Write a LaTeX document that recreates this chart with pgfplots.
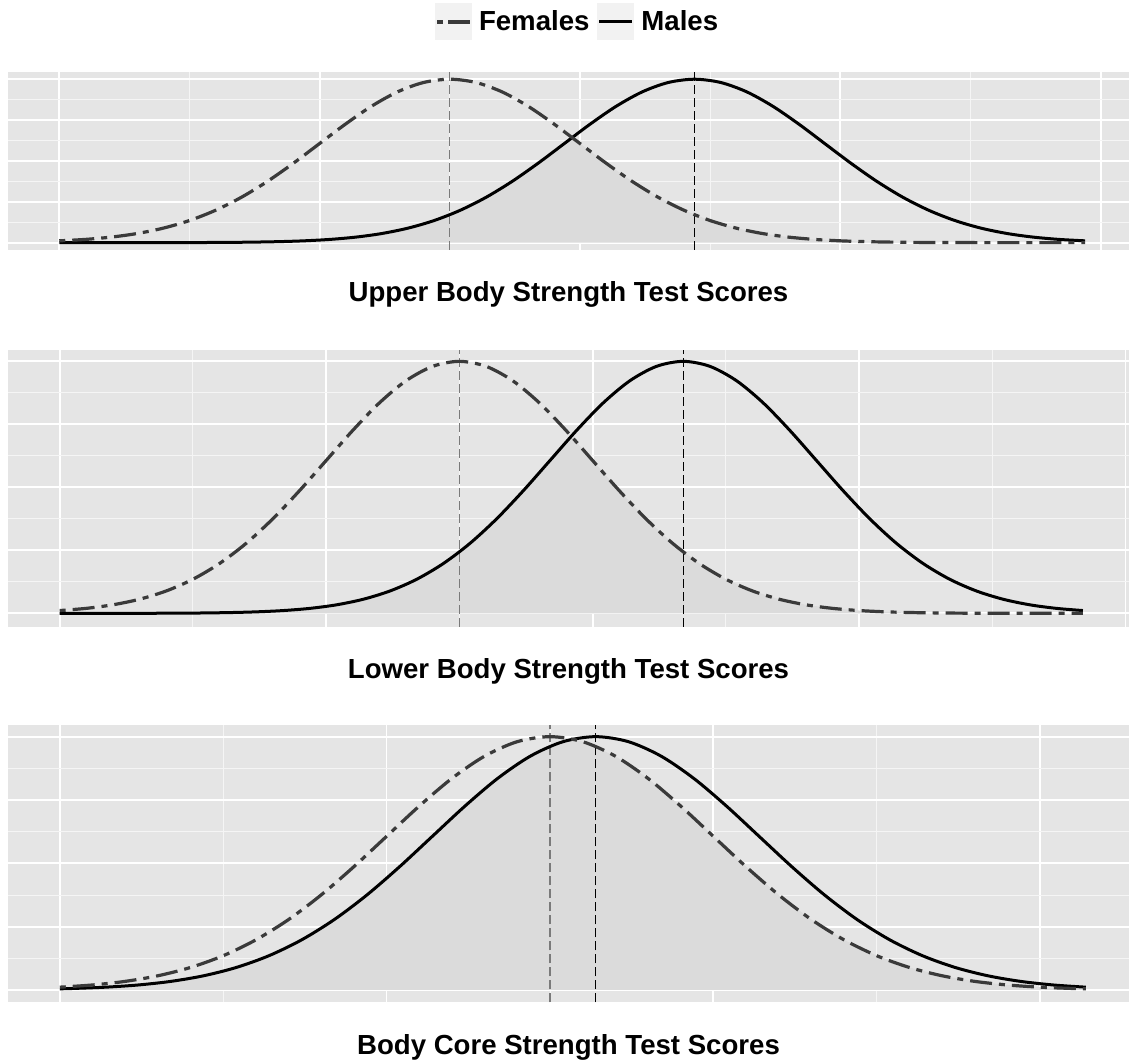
\documentclass[border=0pt]{standalone}
\usepackage{fontspec}
\setmainfont{Liberation Sans}
\usepackage{pgfplots}
\pgfplotsset{compat=1.18}
\definecolor{bgcol}{HTML}{E5E5E5}
\definecolor{shadecol}{HTML}{DBDBDB}
\definecolor{femcol}{HTML}{3A3A3A}
\definecolor{femvline}{HTML}{7A7A7A}
\definecolor{keybg}{HTML}{F2F2F2}
\pgfplotsset{
  panel/.style={
    scale only axis,
    width=560.5pt,
    axis background/.style={fill=bgcol},
    axis line style={draw=none},
    major tick length=0pt, minor tick length=0pt,
    xticklabel=\empty, yticklabel=\empty,
    xmajorgrids, ymajorgrids, xminorgrids, yminorgrids,
    major grid style={white, line width=0.9pt},
    minor grid style={white!60!bgcol, line width=0.45pt},
    xtick={0,1,2,3,4}, minor xtick={0.5,1.5,2.5,3.5},
    ytick={0,0.25,0.5,0.75,1}, minor ytick={0.125,0.375,0.625,0.875},
    clip=true,
    xlabel style={at={(axis description cs:0.5,0)}, anchor=base, yshift=-26pt,
      font=\fontsize{13.8}{16}\selectfont\bfseries},
  },
  femline/.style={femcol, line width=1.6pt, dash pattern=on 3pt off 3.5pt on 11pt off 3.5pt, smooth},
  maleline/.style={black, line width=1.5pt, smooth},
  femmean/.style={femvline, line width=0.65pt, dash pattern=on 4.5pt off 2pt},
  malemean/.style={black, line width=0.6pt, dash pattern=on 4.5pt off 2pt},
  shade/.style={fill=shadecol, draw=none},
}
\begin{document}
\begin{tikzpicture}
\path[use as bounding box] (0,0) rectangle (564.5pt,-531.5pt);
% ---------- Panel 1 ----------
\begin{axis}[panel, at={(4pt,-35.85pt)}, anchor=north west, height=89.15pt,
  xmin=-0.197, xmax=4.109, ymin=-0.045, ymax=1.046,
  xlabel={Upper Body Strength Test Scores},
  legend columns=2,
  legend style={draw=none, fill=none, at={(0.509,1.279)}, anchor=center,
    font=\fontsize{13.8}{16}\selectfont\bfseries, inner sep=0pt,
    /tikz/every odd column/.append style={column sep=1.5pt},
    /tikz/every even column/.append style={column sep=2pt}},
  legend image code/.code={
    \path[fill=keybg, draw=none, solid] (0pt,-9.25pt) rectangle (18.5pt,9.25pt);
    \draw[#1] (1pt,0pt) -- (17.5pt,0pt);
  },
]
\addplot[shade, forget plot] coordinates {
(0,0) (0.34,0.0001) (0.44,0.0003) (0.54,0.0007) (0.64,0.0015) (0.74,0.0031) (0.84,0.0060) (0.94,0.0111) (1.04,0.0198) (1.14,0.0340) (1.24,0.0561) (1.34,0.0889) (1.44,0.1353) (1.54,0.1979) (1.64,0.2780) (1.74,0.3753) (1.84,0.4868) (1.94,0.6065) (1.97,0.6429)
(2.0,0.6065) (2.1,0.4868) (2.2,0.3753) (2.3,0.2780) (2.4,0.1979) (2.5,0.1353) (2.6,0.0889) (2.7,0.0561) (2.8,0.0340) (2.9,0.0198) (3.0,0.0111) (3.1,0.0060) (3.2,0.0031) (3.3,0.0015) (3.4,0.0007) (3.5,0.0003) (3.6,0.0001) (3.94,0)
} \closedcycle;
\addplot[femmean, forget plot] coordinates {(1.5,-0.045) (1.5,1.046)};
\addplot[malemean, forget plot] coordinates {(2.44,-0.045) (2.44,1.046)};
\addplot[maleline, forget plot] coordinates {
(0,0) (0.04,0) (0.34,0.0001) (0.44,0.0003) (0.54,0.0007) (0.64,0.0015) (0.74,0.0031) (0.84,0.0060) (0.94,0.0111) (1.04,0.0198) (1.14,0.0340) (1.24,0.0561) (1.34,0.0889) (1.44,0.1353) (1.54,0.1979) (1.64,0.2780) (1.74,0.3753) (1.84,0.4868) (1.94,0.6065) (2.04,0.7261) (2.14,0.8353) (2.24,0.9231) (2.34,0.9802) (2.44,1) (2.54,0.9802) (2.64,0.9231) (2.74,0.8353) (2.84,0.7261) (2.94,0.6065) (3.04,0.4868) (3.14,0.3753) (3.24,0.2780) (3.34,0.1979) (3.44,0.1353) (3.54,0.0889) (3.64,0.0561) (3.74,0.0340) (3.84,0.0198) (3.94,0.0111)
};
\addplot[femline, forget plot] coordinates {
(0.0,0.0111) (0.1,0.0198) (0.2,0.0340) (0.3,0.0561) (0.4,0.0889) (0.5,0.1353) (0.6,0.1979) (0.7,0.2780) (0.8,0.3753) (0.9,0.4868) (1.0,0.6065) (1.1,0.7261) (1.2,0.8353) (1.3,0.9231) (1.4,0.9802) (1.5,1) (1.6,0.9802) (1.7,0.9231) (1.8,0.8353) (1.9,0.7261) (2.0,0.6065) (2.1,0.4868) (2.2,0.3753) (2.3,0.2780) (2.4,0.1979) (2.5,0.1353) (2.6,0.0889) (2.7,0.0561) (2.8,0.0340) (2.9,0.0198) (3.0,0.0111) (3.1,0.0060) (3.2,0.0031) (3.3,0.0015) (3.4,0.0007) (3.5,0.0003) (3.6,0.0001) (3.7,0) (3.94,0)
};
\addlegendimage{femcol, line width=1.6pt, dash pattern=on 3pt off 2.5pt on 11pt off 3pt}
\addlegendentry{Females}
\addlegendimage{black, line width=1.5pt}
\addlegendentry{Males}
\end{axis}
% ---------- Panel 2 ----------
\begin{axis}[panel, at={(4pt,-175pt)}, anchor=north west, height=138.35pt,
  xmin=-0.194, xmax=4.013, ymin=-0.053, ymax=1.045,
  xlabel={Lower Body Strength Test Scores},
]
\addplot[shade] coordinates {
(0,0) (0.24,0.0001) (0.34,0.0003) (0.44,0.0007) (0.54,0.0015) (0.64,0.0031) (0.74,0.0060) (0.84,0.0111) (0.94,0.0198) (1.04,0.0340) (1.14,0.0561) (1.24,0.0889) (1.34,0.1353) (1.44,0.1979) (1.54,0.2780) (1.64,0.3753) (1.74,0.4868) (1.84,0.6065) (1.92,0.7027)
(2.0,0.6065) (2.1,0.4868) (2.2,0.3753) (2.3,0.2780) (2.4,0.1979) (2.5,0.1353) (2.6,0.0889) (2.7,0.0561) (2.8,0.0340) (2.9,0.0198) (3.0,0.0111) (3.1,0.0060) (3.2,0.0031) (3.3,0.0015) (3.4,0.0007) (3.5,0.0003) (3.6,0.0001) (3.84,0)
} \closedcycle;
\addplot[femmean] coordinates {(1.5,-0.053) (1.5,1.045)};
\addplot[malemean] coordinates {(2.34,-0.053) (2.34,1.045)};
\addplot[maleline] coordinates {
(0,0) (0.04,0) (0.14,0) (0.24,0.0001) (0.34,0.0003) (0.44,0.0007) (0.54,0.0015) (0.64,0.0031) (0.74,0.0060) (0.84,0.0111) (0.94,0.0198) (1.04,0.0340) (1.14,0.0561) (1.24,0.0889) (1.34,0.1353) (1.44,0.1979) (1.54,0.2780) (1.64,0.3753) (1.74,0.4868) (1.84,0.6065) (1.94,0.7261) (2.04,0.8353) (2.14,0.9231) (2.24,0.9802) (2.34,1) (2.44,0.9802) (2.54,0.9231) (2.64,0.8353) (2.74,0.7261) (2.84,0.6065) (2.94,0.4868) (3.04,0.3753) (3.14,0.2780) (3.24,0.1979) (3.34,0.1353) (3.44,0.0889) (3.54,0.0561) (3.64,0.0340) (3.74,0.0198) (3.84,0.0111)
};
\addplot[femline] coordinates {
(0.0,0.0111) (0.1,0.0198) (0.2,0.0340) (0.3,0.0561) (0.4,0.0889) (0.5,0.1353) (0.6,0.1979) (0.7,0.2780) (0.8,0.3753) (0.9,0.4868) (1.0,0.6065) (1.1,0.7261) (1.2,0.8353) (1.3,0.9231) (1.4,0.9802) (1.5,1) (1.6,0.9802) (1.7,0.9231) (1.8,0.8353) (1.9,0.7261) (2.0,0.6065) (2.1,0.4868) (2.2,0.3753) (2.3,0.2780) (2.4,0.1979) (2.5,0.1353) (2.6,0.0889) (2.7,0.0561) (2.8,0.0340) (2.9,0.0198) (3.0,0.0111) (3.1,0.0060) (3.2,0.0031) (3.3,0.0015) (3.4,0.0007) (3.5,0.0003) (3.6,0.0001) (3.7,0) (3.84,0)
};
\end{axis}
% ---------- Panel 3 ----------
\begin{axis}[panel, at={(4pt,-362.5pt)}, anchor=north west, height=138.65pt,
  xmin=-0.1585, xmax=3.272, ymin=-0.0486, ymax=1.046,
  xlabel={Body Core Strength Test Scores},
]
\addplot[shade] coordinates {
(0,0.0046) (0.04,0.0060) (0.14,0.0111) (0.24,0.0198) (0.34,0.0340) (0.44,0.0561) (0.54,0.0889) (0.64,0.1353) (0.74,0.1979) (0.84,0.2780) (0.94,0.3753) (1.04,0.4868) (1.14,0.6065) (1.24,0.7261) (1.34,0.8353) (1.44,0.9231) (1.54,0.9802) (1.57,0.9902)
(1.6,0.9802) (1.7,0.9231) (1.8,0.8353) (1.9,0.7261) (2.0,0.6065) (2.1,0.4868) (2.2,0.3753) (2.3,0.2780) (2.4,0.1979) (2.5,0.1353) (2.6,0.0889) (2.7,0.0561) (2.8,0.0340) (2.9,0.0198) (3.0,0.0111) (3.1,0.0060) (3.14,0.0046)
} \closedcycle;
\addplot[femmean] coordinates {(1.5,-0.0486) (1.5,1.046)};
\addplot[malemean] coordinates {(1.64,-0.0486) (1.64,1.046)};
\addplot[maleline] coordinates {
(0,0.0046) (0.04,0.0060) (0.14,0.0111) (0.24,0.0198) (0.34,0.0340) (0.44,0.0561) (0.54,0.0889) (0.64,0.1353) (0.74,0.1979) (0.84,0.2780) (0.94,0.3753) (1.04,0.4868) (1.14,0.6065) (1.24,0.7261) (1.34,0.8353) (1.44,0.9231) (1.54,0.9802) (1.64,1) (1.74,0.9802) (1.84,0.9231) (1.94,0.8353) (2.04,0.7261) (2.14,0.6065) (2.24,0.4868) (2.34,0.3753) (2.44,0.2780) (2.54,0.1979) (2.64,0.1353) (2.74,0.0889) (2.84,0.0561) (2.94,0.0340) (3.04,0.0198) (3.14,0.0111)
};
\addplot[femline] coordinates {
(0.0,0.0111) (0.1,0.0198) (0.2,0.0340) (0.3,0.0561) (0.4,0.0889) (0.5,0.1353) (0.6,0.1979) (0.7,0.2780) (0.8,0.3753) (0.9,0.4868) (1.0,0.6065) (1.1,0.7261) (1.2,0.8353) (1.3,0.9231) (1.4,0.9802) (1.5,1) (1.6,0.9802) (1.7,0.9231) (1.8,0.8353) (1.9,0.7261) (2.0,0.6065) (2.1,0.4868) (2.2,0.3753) (2.3,0.2780) (2.4,0.1979) (2.5,0.1353) (2.6,0.0889) (2.7,0.0561) (2.8,0.0340) (2.9,0.0198) (3.0,0.0111) (3.1,0.0060) (3.14,0.0046)
};
\end{axis}
\end{tikzpicture}
\end{document}
